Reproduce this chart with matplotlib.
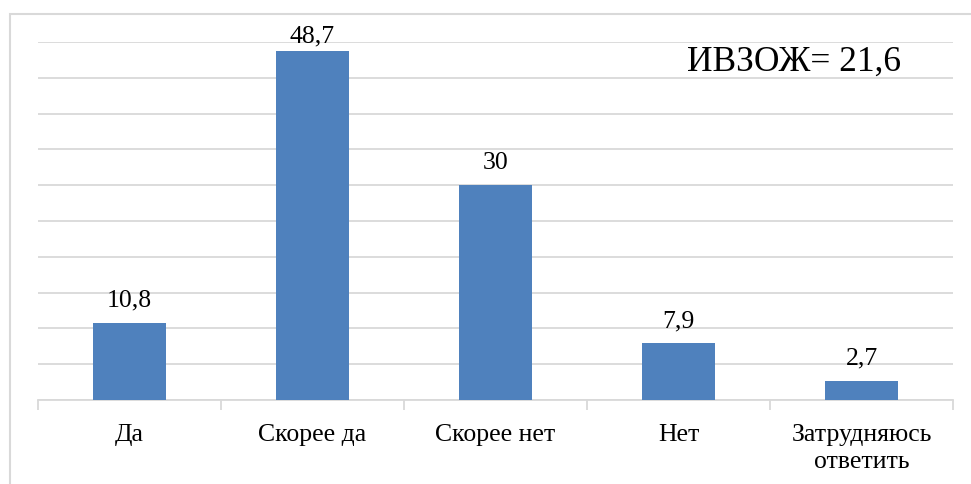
import matplotlib.pyplot as plt
from matplotlib.patches import Rectangle

categories = ['Да', 'Скорее да', 'Скорее нет', 'Нет', 'Затрудняюсь\nответить']
values = [10.8, 48.7, 30, 7.9, 2.7]
value_labels = ['10,8', '48,7', '30', '7,9', '2,7']
note = 'ИВЗОЖ= 21,6'

plt.rcParams['font.family'] = ['Liberation Serif', 'DejaVu Serif']

fig = plt.figure(figsize=(9.71, 4.84), dpi=100)

# outer chart frame (cut off at right and bottom like the reference)
fig.patches.append(Rectangle((10 / 971, -0.1), 1.0, 1 + 0.1 - 14 / 484,
                             transform=fig.transFigure, fill=False,
                             edgecolor='#d9d9d9', linewidth=1.5))

ax = fig.add_axes([38 / 971, 1 - 400 / 484, 915 / 971, 358 / 484])

x = range(len(categories))
ax.bar(x, values, width=0.4, color='#4f81bd', zorder=3)

# labels sit above the bars, kept inside the plot area like Excel does
for xi, v, lab in zip(x, values, value_labels):
    ax.text(xi, min(v + 2.2, 50.0), lab, ha='center', va='baseline',
            fontsize=18.5, color='#000000')

ax.set_xlim(-0.5, len(categories) - 0.5)
ax.set_ylim(0, 50)
ax.set_yticks(range(0, 51, 5))
ax.yaxis.grid(True, color='#d9d9d9', linewidth=1.3, zorder=0)
ax.tick_params(axis='y', left=False, labelleft=False)

ax.set_xticks(list(x))
ax.set_xticklabels(categories, fontsize=18.5, linespacing=1.3, va='top')
ax.tick_params(axis='x', which='major', length=0, pad=17)
ax.set_xticks([i - 0.5 for i in range(len(categories) + 1)], minor=True)
ax.tick_params(axis='x', which='minor', length=7, color='#d9d9d9', width=1.3)

for s in ['top', 'right', 'left']:
    ax.spines[s].set_visible(False)
ax.spines['bottom'].set_color('#d9d9d9')
ax.spines['bottom'].set_linewidth(1.3)

ax.text(687 / 971, 1 - 62 / 484, note, transform=fig.transFigure,
        fontsize=25.5, ha='left', va='center', color='#000000')

fig.savefig('out.png', dpi=100)
